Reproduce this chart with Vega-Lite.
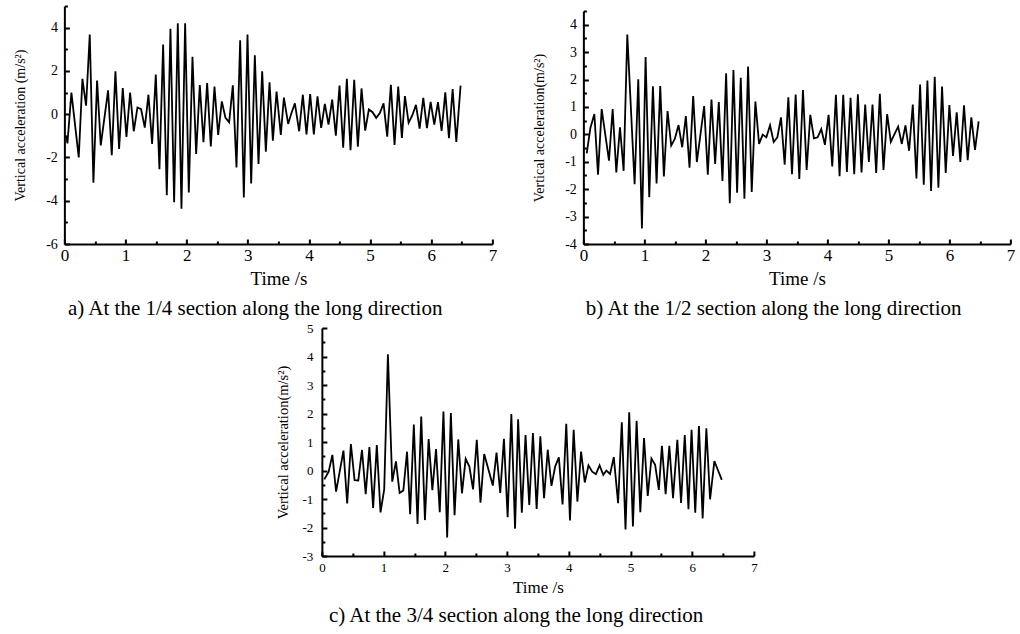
{
  "$schema": "https://vega.github.io/schema/vega-lite/v6.json",
  "background": "white",
  "padding": {"left": 13, "top": 5, "right": 2, "bottom": 2},
  "config": {
    "font": "Liberation Serif",
    "view": {"stroke": null},
    "axis": {
      "grid": false, "domainColor": "black", "domainWidth": 2, "tickColor": "black", "tickWidth": 2,
      "labelFont": "Liberation Serif", "labelColor": "black", "titleFont": "Liberation Serif",
      "titleColor": "black", "titleFontWeight": "normal", "labelFlush": false, "labelOverlap": false,
      "labelExpr": "'' + datum.value"
    },
    "title": {"font": "Liberation Serif", "fontWeight": "normal", "color": "black", "fontSize": 21}
  },
  "datasets": {
    "a": [
      {"t":0.03,"v":-1.0},{"t":0.05,"v":-1.35},{"t":0.115,"v":1.0},{"t":0.235,"v":-2.0},{"t":0.295,"v":1.63},{"t":0.355,"v":0.39},{"t":0.415,"v":3.68},{"t":0.475,"v":-3.17},{"t":0.535,"v":1.55},{"t":0.595,"v":-1.44},{"t":0.715,"v":1.1},{"t":0.775,"v":-1.9},{"t":0.835,"v":1.98},{"t":0.895,"v":-1.61},{"t":0.955,"v":1.21},{"t":1.015,"v":-1.05},{"t":1.075,"v":1.0},{"t":1.135,"v":-0.79},{"t":1.195,"v":0.31},{"t":1.255,"v":0.23},{"t":1.315,"v":-0.62},{"t":1.375,"v":0.9},{"t":1.435,"v":-1.38},{"t":1.495,"v":1.83},{"t":1.555,"v":-2.54},{"t":1.615,"v":3.22},{"t":1.675,"v":-3.75},{"t":1.735,"v":3.95},{"t":1.795,"v":-4.07},{"t":1.855,"v":4.2},{"t":1.915,"v":-4.37},{"t":1.975,"v":4.2},{"t":2.035,"v":-3.62},{"t":2.095,"v":2.65},{"t":2.155,"v":-1.84},{"t":2.215,"v":1.35},{"t":2.275,"v":-1.3},{"t":2.335,"v":1.44},{"t":2.395,"v":-1.49},{"t":2.455,"v":1.28},{"t":2.515,"v":-0.96},{"t":2.575,"v":0.59},{"t":2.635,"v":-0.17},{"t":2.695,"v":-0.37},{"t":2.755,"v":1.33},{"t":2.815,"v":-2.46},{"t":2.875,"v":3.42},{"t":2.935,"v":-3.85},{"t":2.995,"v":3.68},{"t":3.055,"v":-3.2},{"t":3.115,"v":2.72},{"t":3.175,"v":-2.3},{"t":3.235,"v":1.98},{"t":3.295,"v":-1.73},{"t":3.355,"v":1.47},{"t":3.41,"v":-1.22},{"t":3.47,"v":1.05},{"t":3.54,"v":-0.96},{"t":3.59,"v":0.77},{"t":3.66,"v":-0.45},{"t":3.71,"v":0.02},{"t":3.77,"v":0.5},{"t":3.84,"v":-0.79},{"t":3.9,"v":0.9},{"t":3.96,"v":-0.93},{"t":4.02,"v":0.93},{"t":4.08,"v":-0.94},{"t":4.14,"v":0.82},{"t":4.2,"v":-0.63},{"t":4.26,"v":0.48},{"t":4.32,"v":-0.48},{"t":4.38,"v":0.67},{"t":4.44,"v":-0.99},{"t":4.5,"v":1.32},{"t":4.56,"v":-1.55},{"t":4.62,"v":1.63},{"t":4.68,"v":-1.66},{"t":4.74,"v":1.59},{"t":4.8,"v":-1.5},{"t":4.86,"v":1.19},{"t":4.92,"v":-0.76},{"t":4.98,"v":0.22},{"t":5.04,"v":0.09},{"t":5.1,"v":-0.17},{"t":5.16,"v":0.05},{"t":5.22,"v":0.5},{"t":5.28,"v":-1.04},{"t":5.34,"v":1.36},{"t":5.4,"v":-1.42},{"t":5.46,"v":1.28},{"t":5.52,"v":-1.1},{"t":5.57,"v":0.84},{"t":5.63,"v":-0.4},{"t":5.69,"v":-0.06},{"t":5.75,"v":0.43},{"t":5.81,"v":-0.67},{"t":5.87,"v":0.76},{"t":5.93,"v":-0.65},{"t":5.99,"v":0.57},{"t":6.05,"v":-0.48},{"t":6.11,"v":0.56},{"t":6.17,"v":-0.77},{"t":6.23,"v":1.01},{"t":6.29,"v":-1.11},{"t":6.35,"v":1.16},{"t":6.41,"v":-1.28},{"t":6.48,"v":1.32}
    ],
    "b": [
      {"t":0.055,"v":-0.69},{"t":0.115,"v":0.23},{"t":0.18,"v":0.74},{"t":0.24,"v":-1.47},{"t":0.3,"v":0.92},{"t":0.42,"v":-0.96},{"t":0.48,"v":0.92},{"t":0.54,"v":-1.39},{"t":0.6,"v":0.26},{"t":0.66,"v":-1.33},{"t":0.72,"v":3.64},{"t":0.84,"v":-1.82},{"t":0.9,"v":2.01},{"t":0.96,"v":-3.43},{"t":1.02,"v":2.82},{"t":1.08,"v":-2.29},{"t":1.14,"v":1.75},{"t":1.2,"v":-1.79},{"t":1.26,"v":1.76},{"t":1.32,"v":-1.54},{"t":1.38,"v":0.85},{"t":1.44,"v":-0.41},{"t":1.5,"v":-0.16},{"t":1.56,"v":0.34},{"t":1.62,"v":-0.47},{"t":1.68,"v":0.67},{"t":1.74,"v":-1.22},{"t":1.8,"v":1.4},{"t":1.86,"v":-1.01},{"t":1.98,"v":1.03},{"t":2.04,"v":-1.47},{"t":2.1,"v":1.27},{"t":2.16,"v":-1.08},{"t":2.22,"v":1.18},{"t":2.28,"v":-1.7},{"t":2.34,"v":2.23},{"t":2.4,"v":-2.51},{"t":2.46,"v":2.35},{"t":2.52,"v":-2.13},{"t":2.58,"v":2.06},{"t":2.64,"v":-2.35},{"t":2.7,"v":2.47},{"t":2.76,"v":-2.1},{"t":2.82,"v":1.2},{"t":2.88,"v":-0.35},{"t":2.94,"v":-0.01},{"t":3.0,"v":-0.11},{"t":3.06,"v":0.33},{"t":3.12,"v":-0.28},{"t":3.18,"v":-0.11},{"t":3.24,"v":0.62},{"t":3.3,"v":-1.11},{"t":3.36,"v":1.35},{"t":3.42,"v":-1.45},{"t":3.48,"v":1.45},{"t":3.54,"v":-1.63},{"t":3.6,"v":1.62},{"t":3.66,"v":-1.3},{"t":3.72,"v":0.71},{"t":3.78,"v":-0.15},{"t":3.84,"v":-0.11},{"t":3.9,"v":0.19},{"t":3.96,"v":-0.38},{"t":4.02,"v":0.71},{"t":4.08,"v":-1.17},{"t":4.14,"v":1.44},{"t":4.2,"v":-1.53},{"t":4.26,"v":1.44},{"t":4.32,"v":-1.37},{"t":4.38,"v":1.33},{"t":4.44,"v":-1.45},{"t":4.5,"v":1.46},{"t":4.56,"v":-1.39},{"t":4.62,"v":1.09},{"t":4.68,"v":-1.01},{"t":4.74,"v":1.09},{"t":4.8,"v":-1.41},{"t":4.86,"v":1.48},{"t":4.92,"v":-1.3},{"t":4.98,"v":0.74},{"t":5.04,"v":-0.27},{"t":5.1,"v":0.01},{"t":5.16,"v":0.28},{"t":5.22,"v":-0.35},{"t":5.28,"v":0.33},{"t":5.34,"v":-0.6},{"t":5.4,"v":1.09},{"t":5.46,"v":-1.61},{"t":5.52,"v":1.82},{"t":5.58,"v":-1.84},{"t":5.64,"v":1.96},{"t":5.7,"v":-2.07},{"t":5.76,"v":2.1},{"t":5.82,"v":-1.95},{"t":5.88,"v":1.74},{"t":5.94,"v":-1.41},{"t":6.0,"v":1.07},{"t":6.06,"v":-0.79},{"t":6.12,"v":0.8},{"t":6.18,"v":-1.01},{"t":6.24,"v":1.06},{"t":6.3,"v":-0.94},{"t":6.36,"v":0.62},{"t":6.42,"v":-0.57},{"t":6.48,"v":0.47}
    ],
    "c": [
      {"t":0.04,"v":-0.31},{"t":0.11,"v":-0.04},{"t":0.17,"v":0.55},{"t":0.23,"v":-0.74},{"t":0.35,"v":0.7},{"t":0.41,"v":-1.16},{"t":0.47,"v":0.93},{"t":0.53,"v":-0.34},{"t":0.59,"v":-0.35},{"t":0.65,"v":0.72},{"t":0.71,"v":-0.83},{"t":0.77,"v":0.82},{"t":0.83,"v":-1.31},{"t":0.89,"v":0.89},{"t":0.95,"v":-1.47},{"t":1.01,"v":-0.66},{"t":1.07,"v":4.08},{"t":1.14,"v":-0.39},{"t":1.2,"v":0.32},{"t":1.26,"v":-0.79},{"t":1.32,"v":-0.7},{"t":1.38,"v":0.66},{"t":1.43,"v":-1.53},{"t":1.49,"v":1.61},{"t":1.55,"v":-1.88},{"t":1.61,"v":1.89},{"t":1.67,"v":-1.74},{"t":1.73,"v":1.1},{"t":1.79,"v":-0.69},{"t":1.85,"v":0.75},{"t":1.91,"v":-1.46},{"t":1.97,"v":2.07},{"t":2.03,"v":-2.35},{"t":2.09,"v":2.02},{"t":2.15,"v":-1.57},{"t":2.21,"v":1.09},{"t":2.27,"v":-0.8},{"t":2.33,"v":0.41},{"t":2.39,"v":0.14},{"t":2.45,"v":-0.66},{"t":2.51,"v":1.08},{"t":2.57,"v":-1.13},{"t":2.63,"v":0.58},{"t":2.77,"v":-0.53},{"t":2.83,"v":0.63},{"t":2.89,"v":-0.79},{"t":2.95,"v":1.11},{"t":3.01,"v":-1.64},{"t":3.07,"v":1.98},{"t":3.13,"v":-2.04},{"t":3.18,"v":1.8},{"t":3.24,"v":-1.48},{"t":3.3,"v":1.24},{"t":3.36,"v":-1.21},{"t":3.42,"v":1.31},{"t":3.48,"v":-1.35},{"t":3.54,"v":1.2},{"t":3.6,"v":-0.97},{"t":3.66,"v":0.73},{"t":3.72,"v":-0.54},{"t":3.78,"v":0.14},{"t":3.84,"v":0.46},{"t":3.9,"v":-1.19},{"t":3.96,"v":1.64},{"t":4.02,"v":-1.75},{"t":4.08,"v":1.43},{"t":4.14,"v":-1.09},{"t":4.2,"v":0.66},{"t":4.26,"v":-0.42},{"t":4.32,"v":0.18},{"t":4.38,"v":-0.04},{"t":4.44,"v":-0.13},{"t":4.5,"v":0.18},{"t":4.56,"v":-0.15},{"t":4.61,"v":0.0},{"t":4.67,"v":-0.12},{"t":4.73,"v":0.47},{"t":4.8,"v":-1.15},{"t":4.86,"v":1.69},{"t":4.92,"v":-2.07},{"t":4.98,"v":2.04},{"t":5.04,"v":-1.96},{"t":5.1,"v":1.74},{"t":5.16,"v":-1.46},{"t":5.22,"v":1.14},{"t":5.28,"v":-0.89},{"t":5.34,"v":0.42},{"t":5.4,"v":0.2},{"t":5.46,"v":-0.68},{"t":5.51,"v":0.87},{"t":5.57,"v":-0.83},{"t":5.63,"v":0.87},{"t":5.69,"v":-0.97},{"t":5.76,"v":1.08},{"t":5.82,"v":-1.14},{"t":5.88,"v":1.24},{"t":5.94,"v":-1.36},{"t":5.99,"v":1.43},{"t":6.05,"v":-1.48},{"t":6.11,"v":1.56},{"t":6.17,"v":-1.68},{"t":6.23,"v":1.48},{"t":6.29,"v":-1.01},{"t":6.36,"v":0.33},{"t":6.42,"v":0.0},{"t":6.48,"v":-0.33}
    ]
  },
  "spacing": 3,
  "center": true,
  "vconcat": [
    {
      "spacing": 35,
      "hconcat": [
        {
          "width": 428, "height": 238,
          "title": {"text": "a) At the 1/4 section along the long direction", "orient": "bottom", "anchor": "middle", "frame": "bounds", "offset": 10},
          "data": {"name": "a"},
          "resolve": {"axis": {"x": "independent", "y": "independent"}},
          "layer": [
            {
              "mark": {"type": "line", "color": "black", "strokeWidth": 1.8},
              "encoding": {
                "x": {"field": "t", "type": "quantitative", "scale": {"domain": [0, 7], "nice": false, "zero": false},
                      "axis": {"orient": "bottom", "values": [0,1,2,3,4,5,6,7], "title": "Time /s", "labelFontSize": 17, "titleFontSize": 19, "tickSize": -5, "labelPadding": 8, "titlePadding": 6}},
                "y": {"field": "v", "type": "quantitative", "scale": {"domain": [-6, 5], "nice": false, "zero": false},
                      "axis": {"orient": "left", "values": [-6,-4,-2,0,2,4], "title": "Vertical acceleration (m/s²)", "labelFontSize": 14, "titleFontSize": 14, "tickSize": -5, "labelPadding": 12, "titlePadding": 18}}
              }
            },
            {
              "mark": {"type": "line", "opacity": 0},
              "encoding": {
                "x": {"field": "t", "type": "quantitative", "axis": {"orient": "bottom", "values": [0.5,1.5,2.5,3.5,4.5,5.5,6.5], "labels": false, "title": null, "domain": false, "tickSize": -3}},
                "y": {"field": "v", "type": "quantitative", "axis": {"orient": "left", "values": [-5,-3,-1,1,3,5], "labels": false, "title": null, "domain": false, "tickSize": -3}}
              }
            }
          ]
        },
        {
          "width": 427, "height": 238,
          "title": {"text": "b) At the 1/2 section along the long direction", "orient": "bottom", "anchor": "middle", "frame": "bounds", "offset": 10},
          "data": {"name": "b"},
          "resolve": {"axis": {"x": "independent", "y": "independent"}},
          "layer": [
            {
              "mark": {"type": "line", "color": "black", "strokeWidth": 1.8},
              "encoding": {
                "x": {"field": "t", "type": "quantitative", "scale": {"domain": [0, 7], "nice": false, "zero": false},
                      "axis": {"orient": "bottom", "values": [0,1,2,3,4,5,6,7], "title": "Time /s", "labelFontSize": 17, "titleFontSize": 19, "tickSize": -5, "labelPadding": 8, "titlePadding": 6}},
                "y": {"field": "v", "type": "quantitative", "scale": {"domain": [-4, 4.5], "range": [238, 5], "nice": false, "zero": false},
                      "axis": {"orient": "left", "values": [-4,-3,-2,-1,0,1,2,3,4], "title": "Vertical acceleration(m/s²)", "labelFontSize": 14, "titleFontSize": 14, "tickSize": -5, "labelPadding": 12, "titlePadding": 18}}
              }
            },
            {
              "mark": {"type": "line", "opacity": 0},
              "encoding": {
                "x": {"field": "t", "type": "quantitative", "axis": {"orient": "bottom", "values": [0.5,1.5,2.5,3.5,4.5,5.5,6.5], "labels": false, "title": null, "domain": false, "tickSize": -3}},
                "y": {"field": "v", "type": "quantitative", "axis": {"orient": "left", "values": [-3.5,-2.5,-1.5,-0.5,0.5,1.5,2.5,3.5,4.5], "labels": false, "title": null, "domain": false, "tickSize": -3}}
              }
            }
          ]
        }
      ]
    },
    {
      "width": 432, "height": 228,
      "title": {"text": "c) At the 3/4 section along the long direction", "orient": "bottom", "anchor": "middle", "frame": "bounds", "offset": 10},
      "data": {"name": "c"},
      "resolve": {"axis": {"x": "independent", "y": "independent"}},
      "layer": [
        {
          "mark": {"type": "line", "color": "black", "strokeWidth": 1.8},
          "encoding": {
            "x": {"field": "t", "type": "quantitative", "scale": {"domain": [0, 7], "nice": false, "zero": false},
                  "axis": {"orient": "bottom", "values": [0,1,2,3,4,5,6,7], "title": "Time /s", "labelFontSize": 13, "titleFontSize": 17, "tickSize": -5, "labelPadding": 10, "titlePadding": 5}},
            "y": {"field": "v", "type": "quantitative", "scale": {"domain": [-3, 5], "nice": false, "zero": false},
                  "axis": {"orient": "left", "values": [-3,-2,-1,0,1,2,3,4,5], "title": "Vertical acceleration(m/s²)", "labelFontSize": 13, "titleFontSize": 14.5, "tickSize": -5, "labelPadding": 14, "titlePadding": 12}}
          }
        },
        {
          "mark": {"type": "line", "opacity": 0},
          "encoding": {
            "x": {"field": "t", "type": "quantitative", "axis": {"orient": "bottom", "values": [0.5,1.5,2.5,3.5,4.5,5.5,6.5], "labels": false, "title": null, "domain": false, "tickSize": -3}},
            "y": {"field": "v", "type": "quantitative", "axis": {"orient": "left", "values": [-2.5,-1.5,-0.5,0.5,1.5,2.5,3.5,4.5], "labels": false, "title": null, "domain": false, "tickSize": -3}}
          }
        }
      ]
    }
  ]
}
